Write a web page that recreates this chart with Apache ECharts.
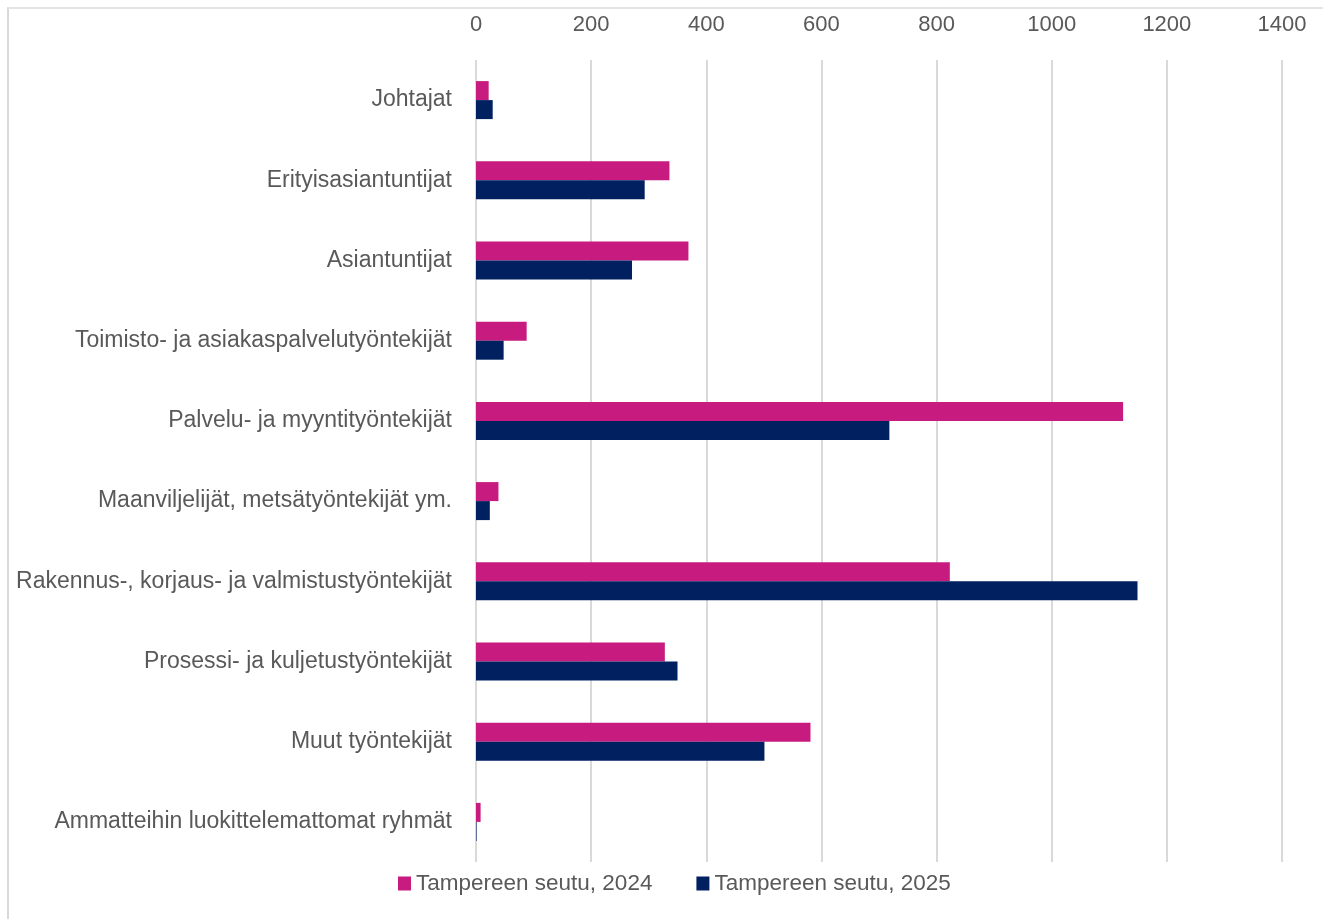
<!DOCTYPE html>
<html>
<head>
<meta charset="utf-8">
<script src="https://cdn.jsdelivr.net/npm/echarts@6/dist/echarts.min.js"></script>
<style>
  html, body { margin: 0; padding: 0; background: #fff; overflow: hidden; }
  #frame { position: absolute; left: 7px; top: 7px; width: 2000px; height: 2000px; border-left: 2px solid #d9d9d9; border-top: 2px solid #e4e4e4; }
  #main { position: absolute; left: 0; top: 0; width: 1323px; height: 919px; }
</style>
</head>
<body>
<div id="frame"></div>
<div id="main"></div>
<script>
// Ammattiryhmät, Tampereen seutu
var categories = [
    'Johtajat',
    'Erityisasiantuntijat',
    'Asiantuntijat',
    'Toimisto- ja asiakaspalvelutyöntekijät',
    'Palvelu- ja myyntityöntekijät',
    'Maanviljelijät, metsätyöntekijät ym.',
    'Rakennus-, korjaus- ja valmistustyöntekijät',
    'Prosessi- ja kuljetustyöntekijät',
    'Muut työntekijät',
    'Ammatteihin luokittelemattomat ryhmät'
];
var seriesNames = ['Tampereen seutu, 2024', 'Tampereen seutu, 2025'];
var values2024 = [22, 336, 369, 88, 1124, 39, 823, 328, 581, 8];
var values2025 = [29, 293, 271, 48, 718, 24, 1149, 350, 501, 1];
var axisMin = 0, axisMax = 1400, axisStep = 200;

var myChart = echarts.init(document.getElementById('main'));
var textColor = '#595959';
var font = 'Liberation Sans';

option = {
    animation: false,
    legend: {
        bottom: 19,
        left: 393,
        itemGap: 44,
        itemWidth: 13,
        itemHeight: 14,
        icon: 'rect',
        textStyle: {
            fontSize: 22.5,
            color: textColor,
            fontFamily: font
        },
        data: seriesNames
    },
    grid: {
        left: 476,
        right: 41,
        top: 60,
        bottom: 57
    },
    xAxis: {
        type: 'value',
        position: 'top',
        min: axisMin,
        max: axisMax,
        interval: axisStep,
        axisLine: { show: false },
        axisTick: { show: false },
        axisLabel: {
            margin: 24,
            fontSize: 22,
            color: textColor,
            fontFamily: font,
            formatter: function (v) { return String(v); }
        },
        splitLine: {
            lineStyle: {
                color: '#d9d9d9',
                width: 2
            }
        }
    },
    yAxis: {
        type: 'category',
        inverse: true,
        data: categories,
        axisLine: { show: false },
        axisTick: { show: false },
        axisLabel: {
            margin: 24,
            fontSize: 23,
            color: textColor,
            fontFamily: font
        }
    },
    series: [
        {
            name: seriesNames[0],
            type: 'bar',
            color: '#c71b7f',
            barWidth: 19,
            barGap: 0,
            data: values2024
        },
        {
            name: seriesNames[1],
            type: 'bar',
            color: '#002060',
            barWidth: 19,
            barGap: 0,
            data: values2025
        }
    ]
};
myChart.setOption(option);
</script>
</body>
</html>
